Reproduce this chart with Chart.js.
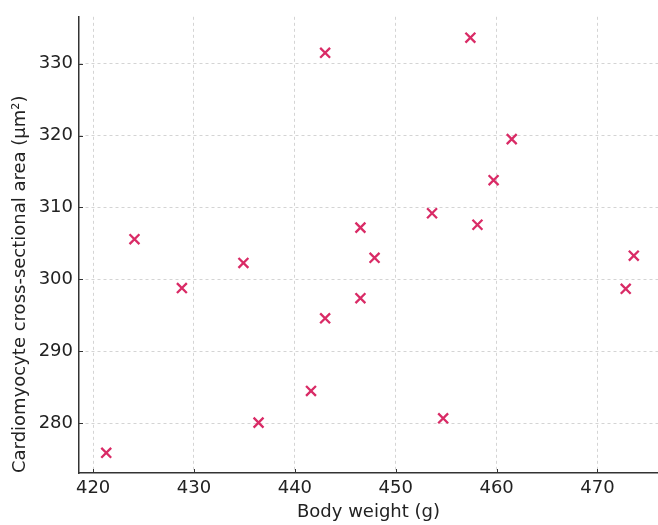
<!DOCTYPE html>
<html>
<head>
<meta charset="utf-8">
<script src="https://cdn.jsdelivr.net/npm/chart.js@4/dist/chart.umd.min.js"></script>
<style>
  html, body { margin: 0; padding: 0; background: #fff; }
  #wrap { width: 658px; height: 525px; }
</style>
</head>
<body>
<div id="wrap"><canvas id="myChart"></canvas></div>
<script>
// body weight (g) and cardiomyocyte area (um2)
var bodyWeight = [421.3, 424.1, 428.8, 434.9, 436.4, 441.6, 443.0, 443.0, 446.5, 446.5,
                  447.9, 453.6, 454.7, 457.4, 458.1, 459.7, 461.5, 472.8, 473.6];
var cellArea   = [275.9, 305.6, 298.8, 302.3, 280.1, 284.5, 331.5, 294.6, 307.2, 297.4,
                  303.0, 309.2, 280.7, 333.6, 307.6, 313.8, 319.5, 298.7, 303.3];
var xTicks = [420, 430, 440, 450, 460, 470];
var yTicks = [280, 290, 300, 310, 320, 330];

var points = bodyWeight.map(function(w, i) { return { x: w, y: cellArea[i] }; });

// small ticks pointing into the plot, like the original
var innerTicks = {
  id: 'innerTicks',
  afterDraw: function(chart) {
    var c = chart.ctx, a = chart.chartArea;
    var xs = chart.scales.x, ys = chart.scales.y;
    c.save();
    c.strokeStyle = '#333';
    c.lineWidth = 1;
    xTicks.forEach(function(v) {
      var px = Math.round(xs.getPixelForValue(v)) + 0.5;
      c.beginPath(); c.moveTo(px, a.bottom); c.lineTo(px, a.bottom - 4); c.stroke();
    });
    yTicks.forEach(function(v) {
      var py = Math.round(ys.getPixelForValue(v)) + 0.5;
      c.beginPath(); c.moveTo(a.left, py); c.lineTo(a.left + 4, py); c.stroke();
    });
    c.restore();
  }
};

var ctx = document.getElementById('myChart').getContext('2d');
var chart = new Chart(ctx, {
  type: 'scatter',
  data: {
    datasets: [{
      label: 'Rats',
      data: points,
      pointStyle: 'crossRot',
      pointRadius: 7,
      pointHoverRadius: 7,
      borderColor: '#d92b66',
      backgroundColor: '#d92b66',
      pointBorderWidth: 2.3
    }]
  },
  options: {
    responsive: true,
    maintainAspectRatio: false,
    animation: false,
    layout: { autoPadding: false, padding: { top: 16, right: 0, left: 0, bottom: 0 } },
    plugins: {
      legend: { display: false },
      tooltip: { enabled: false }
    },
    scales: {
      x: {
        type: 'linear',
        min: 418.6,
        max: 476,
        afterFit: function(s) { s.height = 52; },
        afterBuildTicks: function(s) { s.ticks = xTicks.map(function(v) { return { value: v }; }); },
        ticks: { padding: 5, color: '#222', font: { family: 'DejaVu Sans', size: 18 } },
        grid: { color: '#d4d4d4', drawTicks: false },
        border: { display: true, color: '#333', width: 1.5, dash: [3, 3] },
        title: {
          display: true,
          text: 'Body weight (g)',
          color: '#222',
          font: { family: 'DejaVu Sans', size: 18 },
          padding: { top: 0, bottom: 2 }
        }
      },
      y: {
        type: 'linear',
        min: 273.1,
        max: 336.5,
        afterFit: function(s) { s.width = 79; },
        afterBuildTicks: function(s) { s.ticks = yTicks.map(function(v) { return { value: v }; }); },
        ticks: { padding: 6, color: '#222', font: { family: 'DejaVu Sans', size: 18 } },
        grid: { color: '#d4d4d4', drawTicks: false },
        border: { display: true, color: '#333', width: 1.5, dash: [3, 3] },
        title: {
          display: true,
          align: 'start',
          text: 'Cardiomyocyte cross-sectional area (μm²)',
          color: '#222',
          font: { family: 'DejaVu Sans', size: 18 },
          padding: { top: 10, bottom: 0 }
        }
      }
    }
  },
  plugins: [innerTicks]
});
</script>
</body>
</html>
